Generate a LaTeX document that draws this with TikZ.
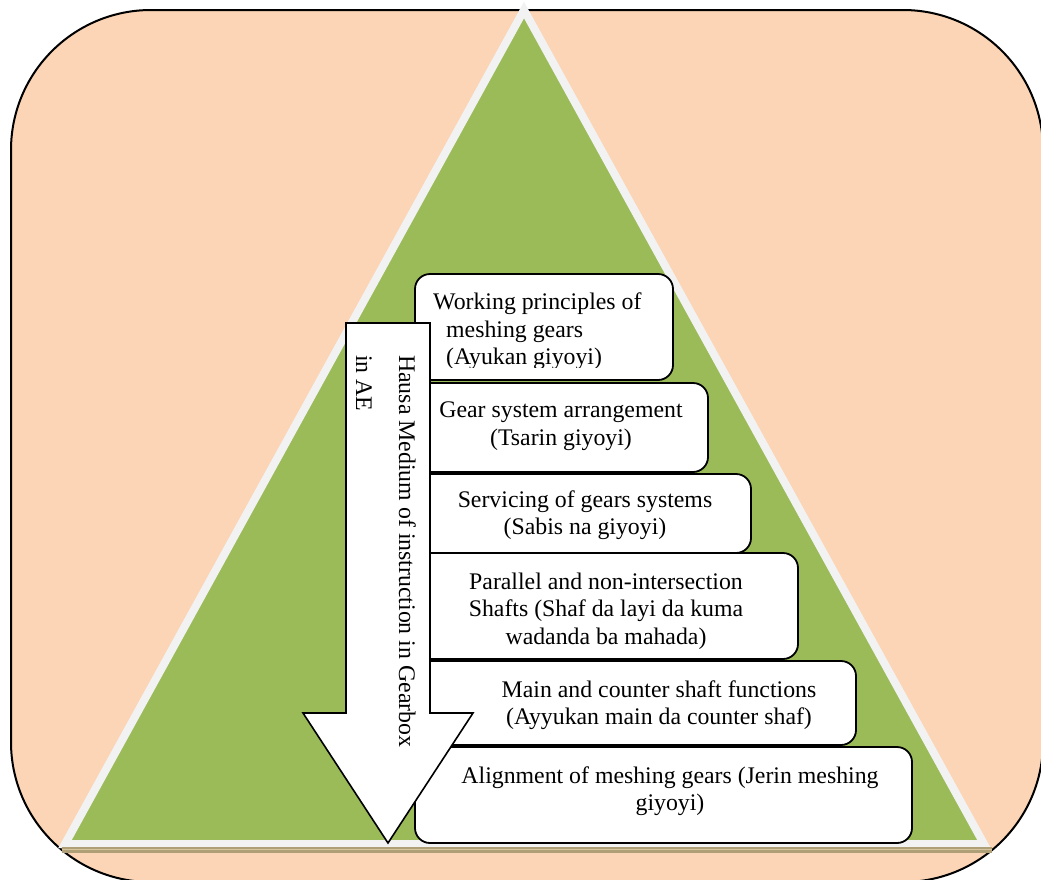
\documentclass[tikz,border=0pt]{standalone}
\usepackage{fontspec}
\setmainfont{Liberation Serif}
\definecolor{peach}{HTML}{FBD5B5}
\definecolor{leaf}{HTML}{9BBB59}
\definecolor{rim}{HTML}{F2F2F2}
\definecolor{ledge}{HTML}{AE9F76}
\definecolor{ledgelight}{HTML}{D6C59D}
\begin{document}
\begin{tikzpicture}[x=1pt,y=-1pt,
  stepbox/.style={draw=black, line width=1.8pt, fill=white, rounded corners=15pt},
  lbl/.style={font=\fontsize{23.8}{27.4}\selectfont, align=center, inner sep=0pt},
]
\useasboundingbox (0,0) rectangle (1041,879);
\clip (0,0) rectangle (1041,879);

% background panel
\draw[fill=peach, line width=2pt, rounded corners=140pt] (11,10) rectangle (1043,882);

% pyramid
\draw[fill=leaf, draw=rim, line width=8pt, line join=miter] (524,10) -- (984,844) -- (65,844) -- cycle;
\fill[ledge] (62,847) rectangle (992,853);
\draw[ledgelight, line width=1.2pt] (62,849.4) -- (992,849.4);

% steps
\draw[stepbox] (415,274) rectangle (673,380);
\begin{scope}
  \clip (415,274) rectangle (673,367);
  \node[lbl, align=left, anchor=west] (t1) at (433,331.4)
    {Working principles of\\\hspace*{13pt}meshing gears\\\hspace*{13pt}(Ayukan giyoyi)};
\end{scope}

\draw[stepbox] (415,383) rectangle (708,472);
\node[lbl] (t2) at (561,426) {Gear system arrangement\\(Tsarin giyoyi)};

\draw[stepbox] (415,474) rectangle (751,553);
\node[lbl] (t3) at (585,515) {Servicing of gears systems\\(Sabis na giyoyi)};

\draw[stepbox] (415,553) rectangle (798,659);
\node[lbl] (t4) at (606,611) {Parallel and non-intersection\\Shafts (Shaf da layi da kuma\\wadanda ba mahada)};

\draw[stepbox] (415,661) rectangle (856,745);
\node[lbl] (t5) at (659,705) {Main and counter shaft functions\\(Ayyukan main da counter shaf)};

\draw[stepbox] (415,747) rectangle (912,843);
\node[lbl] (t6) at (670,791) {Alignment of meshing gears (Jerin meshing\\giyoyi)};

% downward arrow
\draw[fill=white, line width=1.6pt, line join=miter]
  (346,323) -- (430,323) -- (430,713) -- (473,713) -- (388,843) -- (303,713) -- (346,713) -- cycle;
\node[lbl, align=left, rotate=-90, anchor=north west] (arrowtext) at (416,355)
  {Hausa Medium of instruction in Gearbox\\[15.6pt]in AE};
\end{tikzpicture}
\end{document}
